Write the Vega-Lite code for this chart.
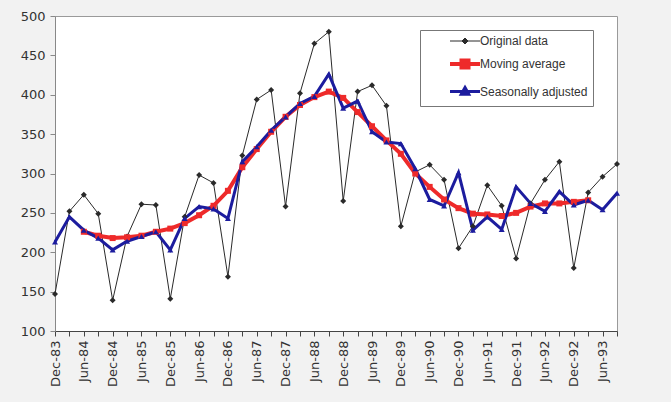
{
  "$schema": "https://vega.github.io/schema/vega-lite/v6.json",
  "width": 562,
  "height": 315,
  "autosize": {"type": "none"},
  "padding": {"left": 55, "top": 16, "right": 54, "bottom": 71},
  "background": "#f2f2f2",
  "config": {"view": {"fill": "white", "stroke": "#9a9a9a", "strokeWidth": 1}},
  "datasets": {
    "quarters": [
      {"q":"Dec-83","s":"Original data","v":147},{"q":"Mar-84","s":"Original data","v":252},{"q":"Jun-84","s":"Original data","v":273},{"q":"Sep-84","s":"Original data","v":249},
      {"q":"Dec-84","s":"Original data","v":139},{"q":"Mar-85","s":"Original data","v":220},{"q":"Jun-85","s":"Original data","v":261},{"q":"Sep-85","s":"Original data","v":260},
      {"q":"Dec-85","s":"Original data","v":141},{"q":"Mar-86","s":"Original data","v":245},{"q":"Jun-86","s":"Original data","v":298},{"q":"Sep-86","s":"Original data","v":288},
      {"q":"Dec-86","s":"Original data","v":169},{"q":"Mar-87","s":"Original data","v":323},{"q":"Jun-87","s":"Original data","v":394},{"q":"Sep-87","s":"Original data","v":406},
      {"q":"Dec-87","s":"Original data","v":258},{"q":"Mar-88","s":"Original data","v":402},{"q":"Jun-88","s":"Original data","v":465},{"q":"Sep-88","s":"Original data","v":480},
      {"q":"Dec-88","s":"Original data","v":265},{"q":"Mar-89","s":"Original data","v":404},{"q":"Jun-89","s":"Original data","v":412},{"q":"Sep-89","s":"Original data","v":386},
      {"q":"Dec-89","s":"Original data","v":233},{"q":"Mar-90","s":"Original data","v":302},{"q":"Jun-90","s":"Original data","v":311},{"q":"Sep-90","s":"Original data","v":292},
      {"q":"Dec-90","s":"Original data","v":205},{"q":"Mar-91","s":"Original data","v":233},{"q":"Jun-91","s":"Original data","v":285},{"q":"Sep-91","s":"Original data","v":259},
      {"q":"Dec-91","s":"Original data","v":192},{"q":"Mar-92","s":"Original data","v":262},{"q":"Jun-92","s":"Original data","v":292},{"q":"Sep-92","s":"Original data","v":315},
      {"q":"Dec-92","s":"Original data","v":180},{"q":"Mar-93","s":"Original data","v":276},{"q":"Jun-93","s":"Original data","v":296},{"q":"Sep-93","s":"Original data","v":312},

      {"q":"Jun-84","s":"Moving average","v":226},{"q":"Sep-84","s":"Moving average","v":221},
      {"q":"Dec-84","s":"Moving average","v":218},{"q":"Mar-85","s":"Moving average","v":219},{"q":"Jun-85","s":"Moving average","v":221},{"q":"Sep-85","s":"Moving average","v":226},
      {"q":"Dec-85","s":"Moving average","v":230},{"q":"Mar-86","s":"Moving average","v":237},{"q":"Jun-86","s":"Moving average","v":247},{"q":"Sep-86","s":"Moving average","v":259},
      {"q":"Dec-86","s":"Moving average","v":278},{"q":"Mar-87","s":"Moving average","v":308},{"q":"Jun-87","s":"Moving average","v":331},{"q":"Sep-87","s":"Moving average","v":353},
      {"q":"Dec-87","s":"Moving average","v":372},{"q":"Mar-88","s":"Moving average","v":387},{"q":"Jun-88","s":"Moving average","v":397},{"q":"Sep-88","s":"Moving average","v":404},
      {"q":"Dec-88","s":"Moving average","v":396},{"q":"Mar-89","s":"Moving average","v":378},{"q":"Jun-89","s":"Moving average","v":360},{"q":"Sep-89","s":"Moving average","v":342},
      {"q":"Dec-89","s":"Moving average","v":325},{"q":"Mar-90","s":"Moving average","v":300},{"q":"Jun-90","s":"Moving average","v":283},{"q":"Sep-90","s":"Moving average","v":267},
      {"q":"Dec-90","s":"Moving average","v":256},{"q":"Mar-91","s":"Moving average","v":249},{"q":"Jun-91","s":"Moving average","v":248},{"q":"Sep-91","s":"Moving average","v":246},
      {"q":"Dec-91","s":"Moving average","v":250},{"q":"Mar-92","s":"Moving average","v":258},{"q":"Jun-92","s":"Moving average","v":262},{"q":"Sep-92","s":"Moving average","v":262},
      {"q":"Dec-92","s":"Moving average","v":264},{"q":"Mar-93","s":"Moving average","v":266},

      {"q":"Dec-83","s":"Seasonally adjusted","v":213},{"q":"Mar-84","s":"Seasonally adjusted","v":245},{"q":"Jun-84","s":"Seasonally adjusted","v":228},{"q":"Sep-84","s":"Seasonally adjusted","v":218},
      {"q":"Dec-84","s":"Seasonally adjusted","v":203},{"q":"Mar-85","s":"Seasonally adjusted","v":214},{"q":"Jun-85","s":"Seasonally adjusted","v":220},{"q":"Sep-85","s":"Seasonally adjusted","v":226},
      {"q":"Dec-85","s":"Seasonally adjusted","v":203},{"q":"Mar-86","s":"Seasonally adjusted","v":243},{"q":"Jun-86","s":"Seasonally adjusted","v":258},{"q":"Sep-86","s":"Seasonally adjusted","v":255},
      {"q":"Dec-86","s":"Seasonally adjusted","v":243},{"q":"Mar-87","s":"Seasonally adjusted","v":315},{"q":"Jun-87","s":"Seasonally adjusted","v":334},{"q":"Sep-87","s":"Seasonally adjusted","v":355},
      {"q":"Dec-87","s":"Seasonally adjusted","v":372},{"q":"Mar-88","s":"Seasonally adjusted","v":389},{"q":"Jun-88","s":"Seasonally adjusted","v":398},{"q":"Sep-88","s":"Seasonally adjusted","v":426},
      {"q":"Dec-88","s":"Seasonally adjusted","v":383},{"q":"Mar-89","s":"Seasonally adjusted","v":392},{"q":"Jun-89","s":"Seasonally adjusted","v":353},{"q":"Sep-89","s":"Seasonally adjusted","v":340},
      {"q":"Dec-89","s":"Seasonally adjusted","v":338},{"q":"Mar-90","s":"Seasonally adjusted","v":306},{"q":"Jun-90","s":"Seasonally adjusted","v":267},{"q":"Sep-90","s":"Seasonally adjusted","v":259},
      {"q":"Dec-90","s":"Seasonally adjusted","v":301},{"q":"Mar-91","s":"Seasonally adjusted","v":228},{"q":"Jun-91","s":"Seasonally adjusted","v":245},{"q":"Sep-91","s":"Seasonally adjusted","v":229},
      {"q":"Dec-91","s":"Seasonally adjusted","v":283},{"q":"Mar-92","s":"Seasonally adjusted","v":262},{"q":"Jun-92","s":"Seasonally adjusted","v":252},{"q":"Sep-92","s":"Seasonally adjusted","v":277},
      {"q":"Dec-92","s":"Seasonally adjusted","v":260},{"q":"Mar-93","s":"Seasonally adjusted","v":266},{"q":"Jun-93","s":"Seasonally adjusted","v":254},{"q":"Sep-93","s":"Seasonally adjusted","v":275}
    ]
  },
  "data": {"name": "quarters"},
  "encoding": {
    "x": {
      "field": "q", "type": "ordinal", "sort": null,
      "scale": {"type": "point", "padding": 0},
      "axis": {
        "title": null, "labelAngle": -90, "labelOverlap": false,
        "labelExpr": "substring(datum.label,0,3) === 'Dec' || substring(datum.label,0,3) === 'Jun' ? datum.label : ''",
        "tickSize": 5, "tickColor": "#444", "domainColor": "#444",
        "labelFont": "DejaVu Sans", "labelFontSize": 13, "labelColor": "#333", "labelPadding": 4
      }
    },
    "y": {
      "field": "v", "type": "quantitative",
      "scale": {"domain": [100, 500], "nice": false, "zero": false},
      "axis": {
        "title": null, "grid": false, "values": [100,150,200,250,300,350,400,450,500],
        "tickSize": 5, "tickColor": "#888", "domainColor": "#888",
        "labelFont": "DejaVu Sans", "labelFontSize": 13, "labelColor": "#333", "labelPadding": 5
      }
    }
  },
  "layer": [
    {
      "mark": {"type": "line"},
      "encoding": {
        "color": {
          "field": "s", "type": "nominal",
          "scale": {"domain": ["Original data", "Moving average", "Seasonally adjusted"], "range": ["#2a2a2a", "#ee2a2a", "#1c1c9e"]},
          "legend": {
            "orient": "none", "legendX": 365, "legendY": 14, "title": null, "direction": "vertical",
            "strokeColor": "#777", "fillColor": "white", "padding": 5,
            "symbolType": "M-3,0L3,0M-0.6,-0.6L0.6,-0.6L0.6,0.6L-0.6,0.6Z",
            "symbolSize": 100, "symbolOffset": 33, "labelOffset": 8, "rowPadding": 5,
            "symbolStrokeWidth": 3, "symbolOpacity": 1,
            "labelFont": "Liberation Sans", "labelFontSize": 12, "labelColor": "#333",
            "encode": {
              "symbols": {
                "update": {
                  "shape": {"signal": "datum.value === 'Original data' ? 'M-3,0L3,0M0,-0.6L0.6,0L0,0.6L-0.6,0Z' : datum.value === 'Moving average' ? 'M-3,0L3,0M-0.7,-0.7L0.7,-0.7L0.7,0.7L-0.7,0.7Z' : 'M-3,0L3,0M0,-0.8L0.75,0.55L-0.75,0.55Z'"},
                  "strokeWidth": {"signal": "datum.value === 'Original data' ? 1 : datum.value === 'Moving average' ? 4 : 3"},
                  "fill": {"signal": "scale('color', datum.value)"},
                  "stroke": {"signal": "scale('color', datum.value)"}
                }
              }
            }
          }
        },
        "strokeWidth": {"field": "s", "type": "nominal", "scale": {"type": "ordinal", "domain": ["Original data", "Moving average", "Seasonally adjusted"], "range": [1, 4, 3]}, "legend": null}
      }
    },
    {
      "mark": {"type": "point", "filled": true, "opacity": 1, "size": 36},
      "encoding": {
        "color": {"field": "s", "type": "nominal", "legend": null},
        "shape": {
          "condition": [
            {"test": "datum.s === 'Original data'", "value": "diamond"},
            {"test": "datum.s === 'Seasonally adjusted'", "value": "triangle-up"}
          ],
          "value": "square"
        }
      }
    }
  ]
}
